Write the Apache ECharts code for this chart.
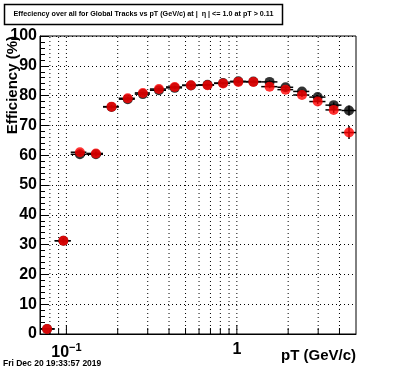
<!DOCTYPE html>
<html>
<head>
<meta charset="utf-8">
<script src="https://cdn.jsdelivr.net/npm/echarts@6/dist/echarts.min.js"></script>
<style>html,body{margin:0;padding:0;background:#fff}#c{width:396px;height:372px}</style>
</head>
<body>
<div id="c"></div>
<script>
// pT bin centres (GeV/c)
var ptCenters = [0.077,0.096,0.120,0.149,0.184,0.229,0.281,0.349,0.432,0.538,0.673,0.830,1.02,1.25,1.556,1.93,2.41,2.98,3.70,4.55];
// bin edges (GeV/c)
var ptEdges = [0.0697,0.0853,0.106,0.131,0.164,0.203,0.252,0.309,0.384,0.477,0.592,0.735,0.913,1.13,1.39,1.73,2.14,2.66,3.31,4.11,5.1];
// efficiency (%) black series
var effBlack = [1.7,31.3,60.3,60.3,76.2,78.8,80.5,81.8,82.6,83.4,83.6,84.2,84.8,84.7,84.6,82.8,81.4,79.5,76.8,75.0];
var errBlack = [0.3,0.8,0.6,0.6,0.5,0.5,0.4,0.4,0.4,0.4,0.4,0.4,0.4,0.4,0.5,0.5,0.6,0.7,0.9,1.7];
// efficiency (%) red series
var effRed = [1.7,31.3,61.0,60.6,76.3,79.1,80.9,82.2,82.9,83.5,83.5,84.1,84.6,84.6,83.0,82.0,80.2,78.0,75.2,67.6];
var errRed = [0.3,0.8,0.6,0.6,0.5,0.5,0.4,0.4,0.4,0.4,0.4,0.4,0.4,0.4,0.5,0.5,0.6,0.8,1.0,2.2];
// axis ticks
var xMajorTicks = [0.1,1];
var xMinorTicks = [0.08,0.09,0.2,0.3,0.4,0.5,0.6,0.7,0.8,0.9,2,3,4];
var yTickInterval = 10;

var titleText = 'Effeciency over all for Global Tracks vs pT (GeV/c) at |  \u03b7 | <= 1.0 at pT > 0.11';
var dateText = 'Fri Dec 20 19:33:57 2019';

function buildErr(eff, err){
  return ptCenters.map(function(c,i){ return [c, eff[i], ptEdges[i], ptEdges[i+1], eff[i]-err[i], eff[i]+err[i]]; });
}

var gridTickData = xMajorTicks.map(function(v){return [v,1];}).concat(xMinorTicks.map(function(v){return [v,0];}));

function errRender(params, api){
  var x = api.value(0), y = api.value(1);
  var p = api.coord([x,y]);
  var pl = api.coord([api.value(2), y]);
  var pr = api.coord([api.value(3), y]);
  var pb = api.coord([x, api.value(4)]);
  var pt = api.coord([x, api.value(5)]);
  var cs = params.coordSys;
  var rx = Math.min(pr[0], cs.x + cs.width);
  var lx = Math.max(pl[0], cs.x);
  var st = {stroke:'#000', lineWidth:1.5};
  return {type:'group', children:[
    {type:'line', shape:{x1:lx,y1:p[1],x2:rx,y2:p[1]}, style:st},
    {type:'line', shape:{x1:p[0],y1:pb[1],x2:p[0],y2:pt[1]}, style:st}
  ]};
}

function gridRender(params, api){
  var v = api.value(0), major = api.value(1);
  var b = api.coord([v,0]), t = api.coord([v,100]);
  var len = major ? 9 : 6;
  return {type:'group', children:[
    {type:'line', shape:{x1:b[0],y1:b[1],x2:t[0],y2:t[1]}, style:{stroke:'#000', lineWidth:1, lineDash:[1,3]}},
    {type:'line', shape:{x1:b[0],y1:b[1],x2:b[0],y2:b[1]-len}, style:{stroke:'#000', lineWidth:1}}
  ]};
}

var chart = echarts.init(document.getElementById('c'), null, {renderer:'canvas'});
chart.setOption({
  animation:false,
  backgroundColor:'#fff',
  grid:{left:40, right:40, top:36, bottom:38, show:true, borderColor:'#000', borderWidth:1},
  xAxis:{
    type:'log', logBase:10, min:0.07, max:5,
    axisLine:{show:true, lineStyle:{color:'#000', width:1}},
    axisTick:{show:false},
    splitLine:{show:false},
    minorTick:{show:false},
    axisLabel:{
      show:true, margin:8, color:'#000', showMinLabel:false, showMaxLabel:false,
      formatter:function(v){
        if (Math.abs(Math.log10(v)+1) < 1e-6) return '{b|10}{s|\u22121}';
        if (Math.abs(Math.log10(v)) < 1e-6) return '{b|1}';
        return '';
      },
      rich:{
        b:{fontFamily:'Liberation Sans', fontWeight:'bold', fontSize:16, color:'#000'},
        s:{fontFamily:'Liberation Sans', fontWeight:'bold', fontSize:11, color:'#000', padding:[0,0,10,0]}
      }
    }
  },
  yAxis:{
    type:'value', min:0, max:100, interval:yTickInterval,
    axisLine:{show:true, lineStyle:{color:'#000', width:1}},
    axisTick:{show:true, inside:true, length:9, lineStyle:{color:'#000'}},
    minorTick:{show:true, splitNumber:5, length:5, lineStyle:{color:'#000'}},
    splitLine:{show:true, lineStyle:{color:'#000', type:[1,3], width:1}},
    axisLabel:{color:'#000', fontFamily:'Liberation Sans', fontWeight:'bold', fontSize:16, margin:3}
  },
  graphic:[
    {type:'rect', shape:{x:4.5,y:4.5,width:278,height:20}, style:{fill:'#fff', stroke:'#000', lineWidth:1.5}, z:11},
    {type:'text', x:143.5, y:14.5, z:12, style:{text:titleText, fontFamily:'Liberation Sans', fontWeight:'bold', fontSize:7.2, fill:'#000', align:'center', verticalAlign:'middle'}},
    {type:'text', x:3, y:364, z:12, style:{text:dateText, fontFamily:'Liberation Sans', fontWeight:'bold', fontSize:8.5, fill:'#000', align:'left', verticalAlign:'middle'}},
    {type:'text', x:356, y:356, z:12, style:{text:'pT (GeV/c)', fontFamily:'Liberation Sans', fontWeight:'bold', fontSize:15, fill:'#000', align:'right', verticalAlign:'middle'}},
    {type:'text', x:13, y:36, rotation:Math.PI/2, z:12, style:{text:'Efficiency (%)', fontFamily:'Liberation Sans', fontWeight:'bold', fontSize:15, fill:'#000', align:'right', verticalAlign:'middle'}}
  ],
  series:[
    {type:'custom', renderItem:gridRender, data:gridTickData, silent:true, z:1, clip:true},
    {type:'custom', renderItem:errRender, data:buildErr(effBlack, errBlack), z:2, clip:true},
    {type:'scatter', data:ptCenters.map(function(c,i){return [c, effBlack[i]];}), symbol:'circle', symbolSize:10, itemStyle:{color:'#000'}, z:3},
    {type:'custom', renderItem:errRender, data:buildErr(effRed, errRed), z:4, clip:true},
    {type:'scatter', data:ptCenters.map(function(c,i){return [c, effRed[i]];}), symbol:'circle', symbolSize:10, itemStyle:{color:'#ff0000'}, z:5}
  ]
});
</script>
</body>
</html>
